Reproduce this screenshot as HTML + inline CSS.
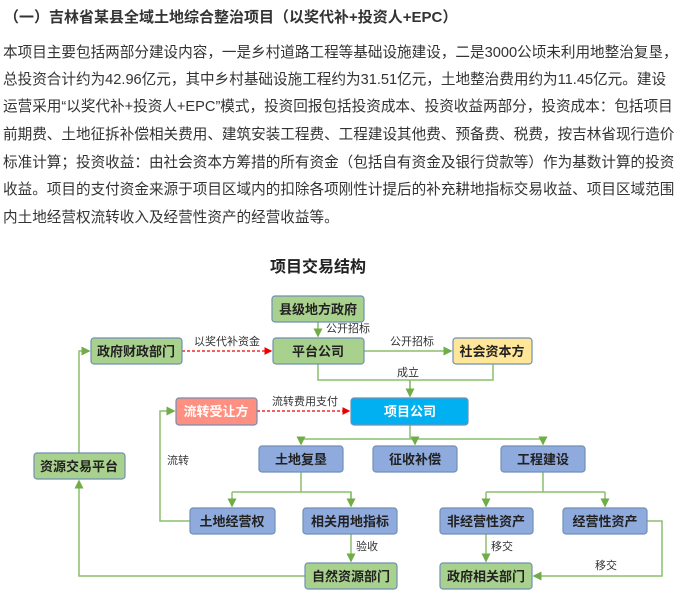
<!DOCTYPE html>
<html><head><meta charset="utf-8"><style>
body{margin:0;width:682px;height:607px;background:#fff;font-family:"Liberation Sans","Noto Sans CJK SC",sans-serif;color:#333;overflow:hidden;position:relative}
.t{position:absolute;left:4px;top:6px;font-size:15px;font-weight:bold;white-space:nowrap}
.p{position:absolute;left:3px;font-size:14.6px;white-space:nowrap}
</style></head><body>
<div class="t">（一）吉林省某县全域土地综合整治项目（以奖代补+投资人+EPC）</div>
<div class="p" style="top:41px">本项目主要包括两部分建设内容，一是乡村道路工程等基础设施建设，二是3000公顷未利用地整治复垦，</div>
<div class="p" style="top:68px">总投资合计约为42.96亿元，其中乡村基础设施工程约为31.51亿元，土地整治费用约为11.45亿元。建设</div>
<div class="p" style="top:95px">运营采用“以奖代补+投资人+EPC”模式，投资回报包括投资成本、投资收益两部分，投资成本：包括项目</div>
<div class="p" style="top:123px">前期费、土地征拆补偿相关费用、建筑安装工程费、工程建设其他费、预备费、税费，按吉林省现行造价</div>
<div class="p" style="top:151px">标准计算；投资收益：由社会资本方筹措的所有资金（包括自有资金及银行贷款等）作为基数计算的投资</div>
<div class="p" style="top:178px">收益。项目的支付资金来源于项目区域内的扣除各项刚性计提后的补充耕地指标交易收益、项目区域范围</div>
<div class="p" style="top:206px">内土地经营权流转收入及经营性资产的经营收益等。</div>
<svg width="682" height="607" style="position:absolute;left:0;top:0" font-family="Liberation Sans,Noto Sans CJK SC,sans-serif">
<defs>
<marker id="g" markerWidth="6" markerHeight="6" refX="5" refY="3" orient="auto"><path d="M0,0L6,3L0,6z" fill="#70ad47"/></marker>
<marker id="r" markerWidth="6" markerHeight="6" refX="5" refY="3" orient="auto"><path d="M0,0L6,3L0,6z" fill="#e00"/></marker>
</defs>
<text x="318" y="272" font-size="16" font-weight="bold" text-anchor="middle" fill="#222">项目交易结构</text>
<g fill="none" stroke="#8cbf6e" stroke-width="1.5">
<path d="M318 322V336" marker-end="url(#g)"/>
<path d="M364 351H451" marker-end="url(#g)"/>
<path d="M318 364V380H493V364M410 380V396" />
<path d="M410 380V396" marker-end="url(#g)"/>
<path d="M410 425V439M301 444V439H543V444M415 439V444"/>
<path d="M301 439V444" marker-end="url(#g)"/><path d="M415 439V444" marker-end="url(#g)"/><path d="M543 439V444" marker-end="url(#g)"/>
<path d="M301 472V492H351V506M232 492H301"/>
<path d="M232 492V506" marker-end="url(#g)"/><path d="M351 492V506" marker-end="url(#g)"/>
<path d="M543 472V492H605M486 492H543"/>
<path d="M486 492V506" marker-end="url(#g)"/><path d="M605 492V506" marker-end="url(#g)"/>
<path d="M190 521H160V411H174" marker-end="url(#g)"/>
<path d="M79 453V351H89" marker-end="url(#g)"/>
<path d="M305 576H79V481" marker-end="url(#g)"/>
<path d="M351 534V561" marker-end="url(#g)"/>
<path d="M486 534V561" marker-end="url(#g)"/>
<path d="M647 521H662V576H534" marker-end="url(#g)"/>
</g>
<g fill="none" stroke="#e00" stroke-width="1.3" stroke-dasharray="3,2">
<path d="M182 351H271" marker-end="url(#r)"/>
<path d="M257 411H349" marker-end="url(#r)"/>
</g>
<g font-size="11" fill="#333">
<text x="326" y="332">公开招标</text>
<text x="390" y="345">公开招标</text>
<text x="194" y="345">以奖代补资金</text>
<text x="397" y="376">成立</text>
<text x="272" y="405">流转费用支付</text>
<text x="167" y="464">流转</text>
<text x="356" y="550">验收</text>
<text x="491" y="550">移交</text>
<text x="595" y="569">移交</text>
</g>
<g stroke="#6f8fb5" stroke-width="1.2" font-size="13" font-weight="bold" text-anchor="middle">
<rect x="272" y="296" width="92" height="26" rx="3" fill="#a9d18e"/><text x="318" y="314" fill="#222" stroke="none">县级地方政府</text>
<rect x="273" y="338" width="91" height="26" rx="3" fill="#a9d18e"/><text x="318" y="356" fill="#222" stroke="none">平台公司</text>
<rect x="91" y="338" width="91" height="26" rx="3" fill="#a9d18e"/><text x="136" y="356" fill="#222" stroke="none">政府财政部门</text>
<rect x="453" y="338" width="79" height="26" rx="3" fill="#ffe699"/><text x="492" y="356" fill="#222" stroke="none">社会资本方</text>
<rect x="351" y="398" width="117" height="27" rx="3" fill="#00b0f0"/><text x="410" y="416" fill="#fff" stroke="none">项目公司</text>
<rect x="176" y="398" width="81" height="27" rx="3" fill="#ff8f80"/><text x="216" y="416" fill="#fff" stroke="none">流转受让方</text>
<rect x="34" y="453" width="91" height="26" rx="3" fill="#a9d18e"/><text x="79" y="471" fill="#222" stroke="none">资源交易平台</text>
<rect x="259" y="446" width="84" height="26" rx="3" fill="#8faadc"/><text x="301" y="464" fill="#222" stroke="none">土地复垦</text>
<rect x="373" y="446" width="84" height="26" rx="3" fill="#8faadc"/><text x="415" y="464" fill="#222" stroke="none">征收补偿</text>
<rect x="501" y="446" width="84" height="26" rx="3" fill="#8faadc"/><text x="543" y="464" fill="#222" stroke="none">工程建设</text>
<rect x="190" y="508" width="85" height="26" rx="3" fill="#8faadc"/><text x="232" y="526" fill="#222" stroke="none">土地经营权</text>
<rect x="303" y="508" width="94" height="26" rx="3" fill="#8faadc"/><text x="350" y="526" fill="#222" stroke="none">相关用地指标</text>
<rect x="440" y="508" width="93" height="26" rx="3" fill="#8faadc"/><text x="486" y="526" fill="#222" stroke="none">非经营性资产</text>
<rect x="563" y="508" width="84" height="26" rx="3" fill="#8faadc"/><text x="605" y="526" fill="#222" stroke="none">经营性资产</text>
<rect x="305" y="563" width="92" height="26" rx="3" fill="#a9d18e"/><text x="351" y="581" fill="#222" stroke="none">自然资源部门</text>
<rect x="440" y="563" width="92" height="26" rx="3" fill="#a9d18e"/><text x="486" y="581" fill="#222" stroke="none">政府相关部门</text>
</g>
</svg>
</body></html>
